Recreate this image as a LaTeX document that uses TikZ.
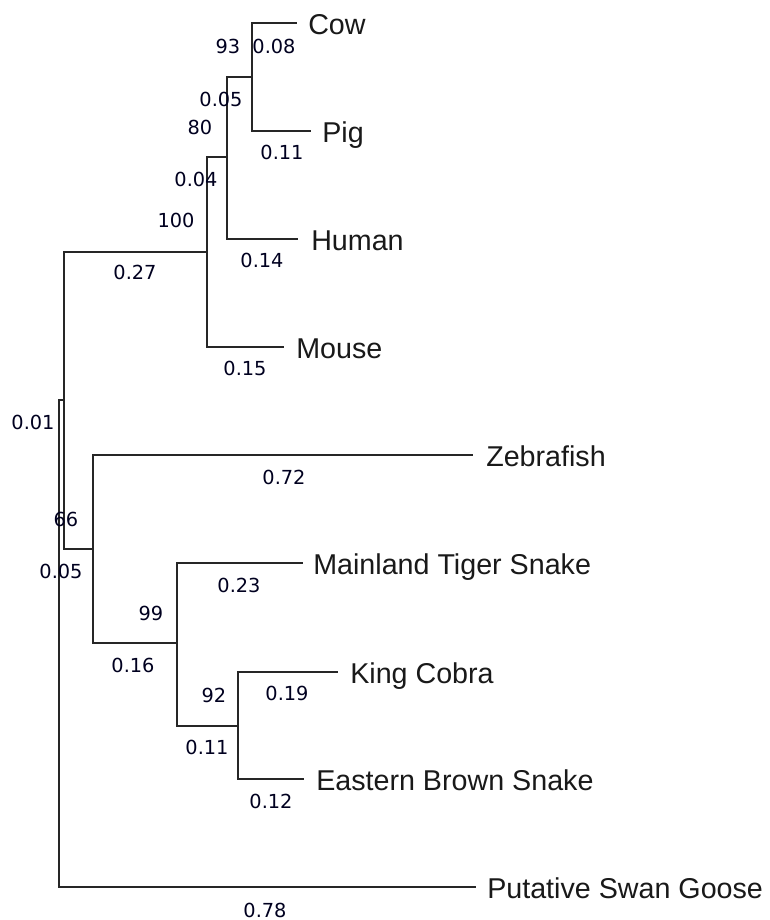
\documentclass[tikz,border=0pt]{standalone}
\usepackage{fontspec}
\setmainfont{Liberation Sans}
\newfontfamily\numfont{DejaVu Sans}
\begin{document}
\begin{tikzpicture}[x=0.75pt,y=-0.75pt,
  edge/.style={draw=black!85,line width=1.4pt,line cap=rect},
  taxon/.style={anchor=base west,inner sep=0pt,font=\fontsize{21.5pt}{24pt}\selectfont,text=black!90},
  lab/.style={anchor=center,inner sep=0pt,font=\numfont\fontsize{14.5pt}{16pt}\selectfont,text=black!80!blue!60!black}]
\useasboundingbox (0,0) rectangle (770,920);
% internal nodes
\coordinate (r)  at (59,643);
\coordinate (A)  at (64,400);
\coordinate (M)  at (207,252);
\coordinate (H)  at (227,157);
\coordinate (CP) at (252,77);
\coordinate (F)  at (93,549);
\coordinate (S)  at (177,643);
\coordinate (KE) at (238,726);
% tips
\coordinate (tcow) at (296,23);
\coordinate (tpig) at (310,131);
\coordinate (thum) at (297,239);
\coordinate (tmou) at (283,347);
\coordinate (tzeb) at (472,455);
\coordinate (tmts) at (302,563);
\coordinate (tkc)  at (337,672);
\coordinate (tebs) at (303,779);
\coordinate (tpsg) at (475,887);
% taxa
\node[taxon] (cow) at (308,34.5) {Cow};
\node[taxon] (pig) at (322,142.5) {Pig};
\node[taxon] (hum) at (311,250.5) {Human};
\node[taxon] (mou) at (296,358.5) {Mouse};
\node[taxon] (zeb) at (486,466.5) {Zebrafish};
\node[taxon] (mts) at (313,574.5) {Mainland Tiger Snake};
\node[taxon] (kc)  at (350,683.5) {King Cobra};
\node[taxon] (ebs) at (316,790.5) {Eastern Brown Snake};
\node[taxon] (psg) at (487,898.5) {Putative Swan Goose};
% edges
\draw[edge] (r) |- (A);
\draw[edge] (r) |- (tpsg);
\draw[edge] (A) |- (M);
\draw[edge] (A) |- (F);
\draw[edge] (M) |- (H);
\draw[edge] (M) |- (tmou);
\draw[edge] (H) |- (CP);
\draw[edge] (H) |- (thum);
\draw[edge] (CP) |- (tcow);
\draw[edge] (CP) |- (tpig);
\draw[edge] (F) |- (tzeb);
\draw[edge] (F) |- (S);
\draw[edge] (S) |- (tmts);
\draw[edge] (S) |- (KE);
\draw[edge] (KE) |- (tkc);
\draw[edge] (KE) |- (tebs);
% labels
\node[lab] (l93)  at (228,46)  {93};
\node[lab] (l008) at (274,46)  {0.08};
\node[lab] (l005a) at (221,99) {0.05};
\node[lab] (l80)  at (200,127) {80};
\node[lab] (l011a) at (282,152) {0.11};
\node[lab] (l004) at (196,179) {0.04};
\node[lab] (l100) at (176,220) {100};
\node[lab] (l014) at (262,260) {0.14};
\node[lab] (l027) at (135,272) {0.27};
\node[lab] (l015) at (245,368) {0.15};
\node[lab] (l001) at (33,422)  {0.01};
\node[lab] (l66)  at (66,519)  {66};
\node[lab] (l005b) at (61,571) {0.05};
\node[lab] (l072) at (284,477) {0.72};
\node[lab] (l023) at (239,585) {0.23};
\node[lab] (l99)  at (151,613) {99};
\node[lab] (l016) at (133,665) {0.16};
\node[lab] (l92)  at (214,695) {92};
\node[lab] (l019) at (287,693) {0.19};
\node[lab] (l011b) at (207,747) {0.11};
\node[lab] (l012) at (271,801) {0.12};
\node[lab] (l078) at (265,910) {0.78};
\end{tikzpicture}
\end{document}
